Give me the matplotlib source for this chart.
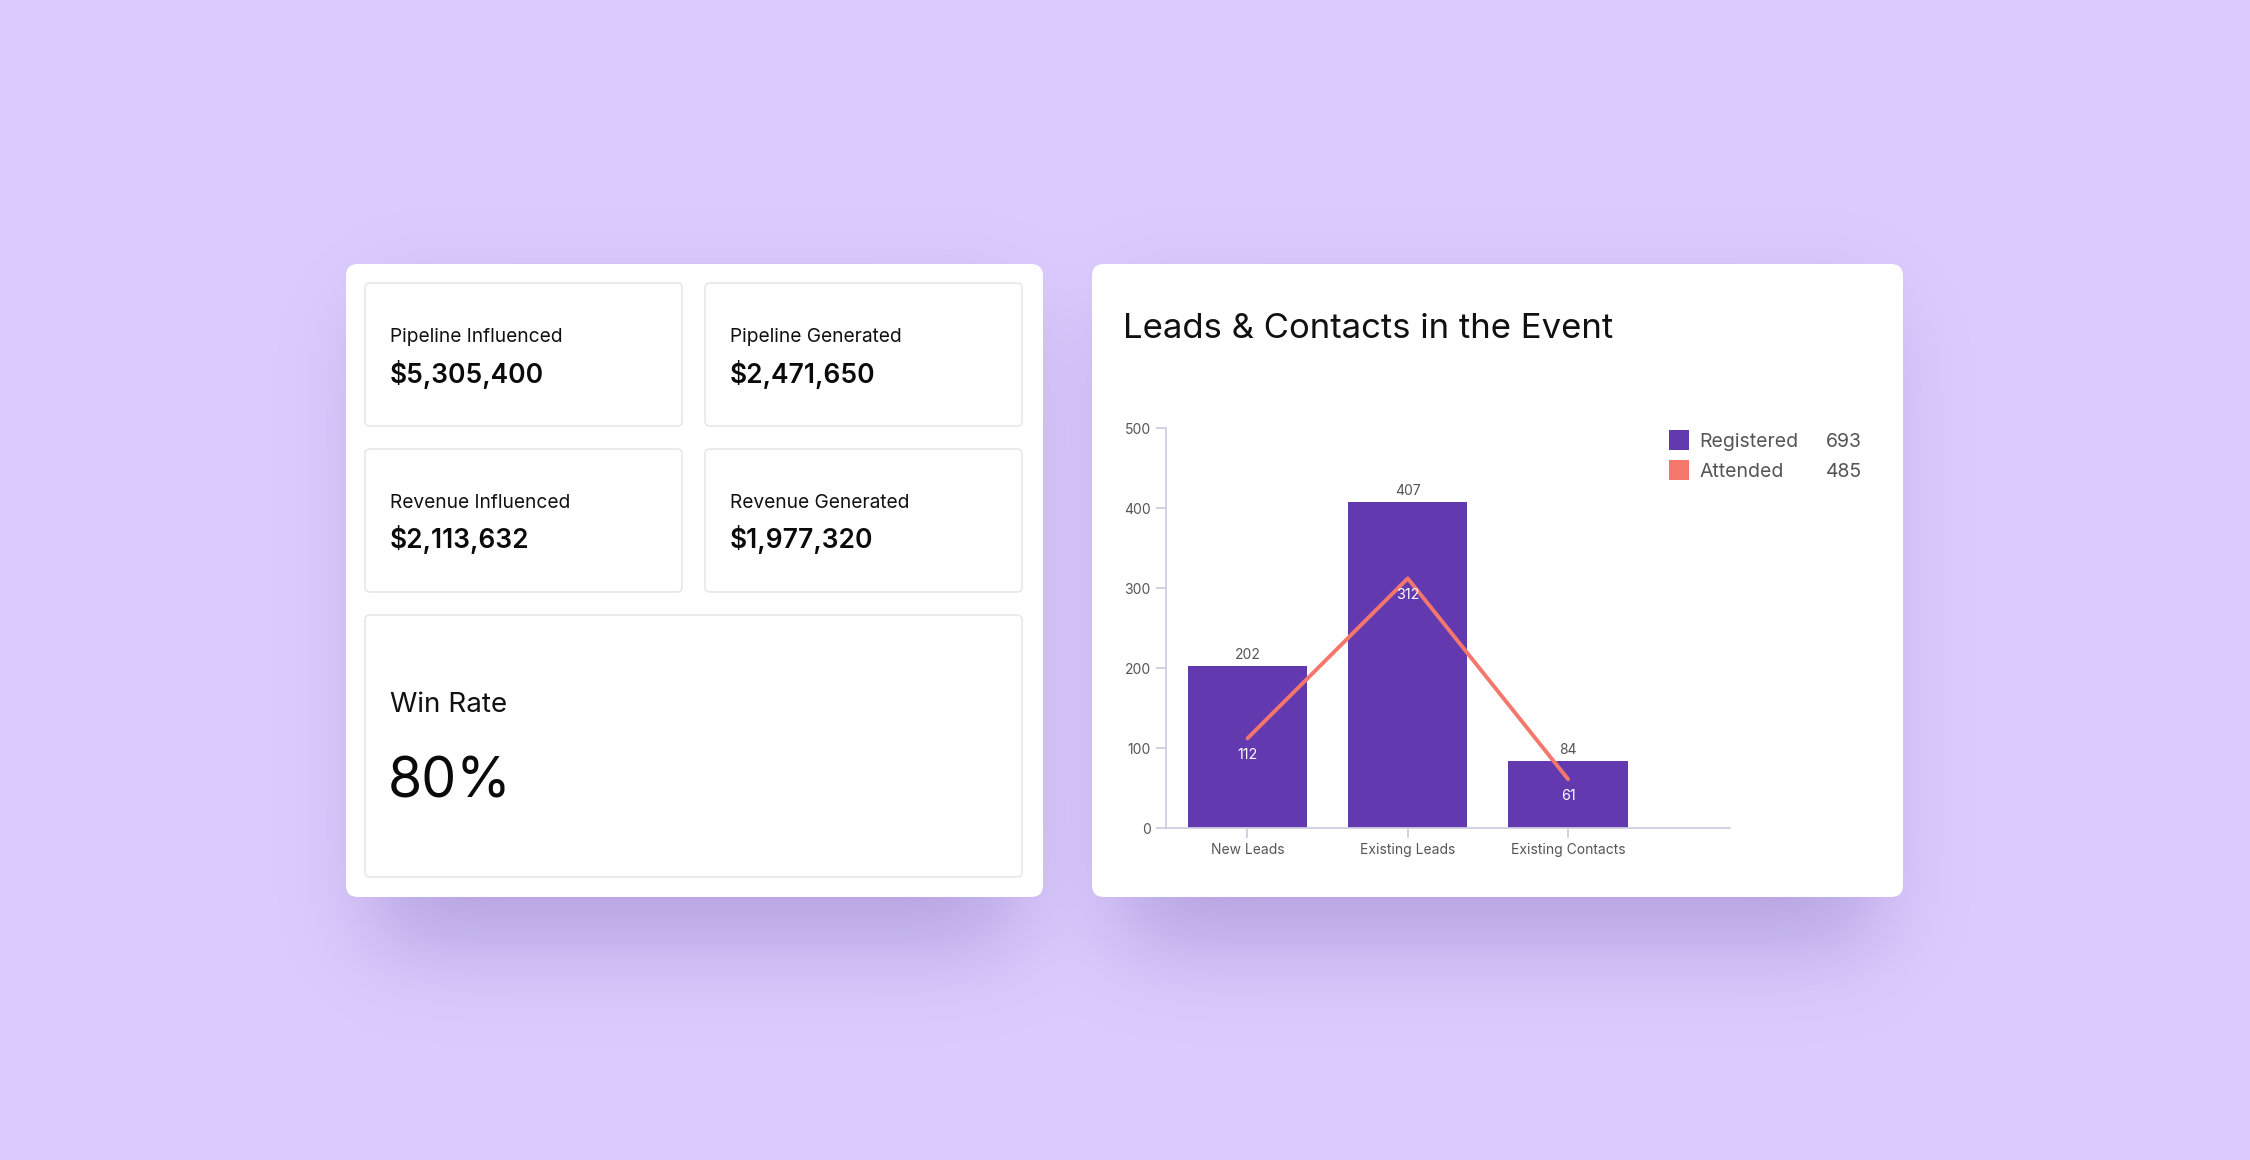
import numpy as np
import matplotlib
matplotlib.use("Agg")
import matplotlib.pyplot as plt
from matplotlib.patches import FancyBboxPatch, Rectangle

plt.rcParams['font.family'] = ['Inter', 'DejaVu Sans']

# data
categories = ['New Leads', 'Existing Leads', 'Existing Contacts']
registered = [202, 407, 84]
attended = [112, 312, 61]

kpi_labels = ['Pipeline Influenced', 'Pipeline Generated', 'Revenue Influenced', 'Revenue Generated']
kpi_values = ['$5,305,400', '$2,471,650', '$2,113,632', '$1,977,320']
win_rate = '80%'

title = 'Leads & Contacts in the Event'

BG = '#DACAFD'
PURPLE = '#6339B0'
CORAL = '#F4776B'
AXIS = '#CFCDE0'
GREY_TXT = '#555555'

W, H = 2250, 1160
fig = plt.figure(figsize=(22.5, 11.6), dpi=100)
fig.patch.set_facecolor(BG)

# background axes in pixel coordinates (y down)
bg = fig.add_axes([0, 0, 1, 1], zorder=0)
bg.set_xlim(0, W)
bg.set_ylim(H, 0)
bg.axis('off')

cards = [(346, 264, 1043, 897), (1092, 264, 1903, 897)]

# soft shadow under the cards
mask = np.zeros((H, W))
for x0, y0, x1, y1 in cards:
    mask[y0 + 45:y1 + 45, x0 + 30:x1 - 30] = 1.0
fy = np.fft.fftfreq(H)[:, None]
fx = np.fft.fftfreq(W)[None, :]
sigma = 45
kern = np.exp(-2 * np.pi ** 2 * sigma ** 2 * (fx ** 2 + fy ** 2))
blur = np.real(np.fft.ifft2(np.fft.fft2(mask) * kern))
blur = np.clip(blur, 0, 1)
shadow = np.zeros((H, W, 4))
shadow[..., 0] = 100 / 255
shadow[..., 1] = 80 / 255
shadow[..., 2] = 160 / 255
shadow[..., 3] = blur * 0.33
bg.imshow(shadow, extent=(0, W, H, 0), zorder=1, interpolation='bilinear')
bg.set_xlim(0, W)
bg.set_ylim(H, 0)

for x0, y0, x1, y1 in cards:
    bg.add_patch(FancyBboxPatch((x0, y0), x1 - x0, y1 - y0,
                                boxstyle='round,pad=0,rounding_size=12',
                                facecolor='white', edgecolor='none', zorder=2))

# KPI boxes
boxes = [(365, 283, 682, 426), (705, 283, 1022, 426),
         (365, 449, 682, 592), (705, 449, 1022, 592)]
label_base = [342, 342, 508, 508]
value_base = [383, 383, 548, 548]
for i, (x0, y0, x1, y1) in enumerate(boxes):
    bg.add_patch(FancyBboxPatch((x0, y0), x1 - x0, y1 - y0,
                                boxstyle='round,pad=0,rounding_size=5',
                                facecolor='white', edgecolor='#E3E3E8', lw=1.0, zorder=3))
    bg.text(x0 + 25, label_base[i], kpi_labels[i], fontsize=13.8, color='#111111',
            va='baseline', ha='left', zorder=4)
    bg.text(x0 + 25, value_base[i], kpi_values[i], fontsize=19, fontweight='semibold',
            color='#0A0A0A', va='baseline', ha='left', zorder=4)

bg.add_patch(FancyBboxPatch((365, 615), 1022 - 365, 877 - 615,
                            boxstyle='round,pad=0,rounding_size=5',
                            facecolor='white', edgecolor='#E3E3E8', lw=1.0, zorder=3))
bg.text(390, 712, 'Win Rate', fontsize=20, color='#111111', va='baseline', zorder=4)
bg.text(388, 797, win_rate, fontsize=40, color='#0A0A0A', va='baseline', zorder=4)

# chart card title
bg.text(1123, 338, title, fontsize=25, color='#111111', va='baseline', zorder=4)

# legend
legend_items = [('Registered', PURPLE, sum(registered), 447),
                ('Attended', CORAL, sum(attended), 477)]
for name, col, total, base in legend_items:
    bg.add_patch(Rectangle((1669, base - 17), 20, 20, facecolor=col, edgecolor='none', zorder=4))
    bg.text(1699, base, name, fontsize=14, color=GREY_TXT, va='baseline', zorder=4)
    bg.text(1862, base, str(total), fontsize=14, color=GREY_TXT, va='baseline',
            ha='right', zorder=4)

# chart axes
ax = fig.add_axes([1166 / W, 1 - 828 / H, (1730 - 1166) / W, 400 / H], zorder=5)
ax.patch.set_alpha(0)
x = np.arange(len(categories))
bars = ax.bar(x, registered, width=0.745, color=PURPLE, zorder=2)
ax.bar_label(bars, padding=3, fontsize=10, color=GREY_TXT)
ax.plot(x, attended, color=CORAL, lw=2.8, zorder=3, solid_capstyle='round')
for xi, v in zip(x, attended):
    ax.annotate(str(v), (xi, v), xytext=(0, -12), textcoords='offset points',
                ha='center', va='center', fontsize=10.3, color='white', zorder=4)

ax.set_xlim(-0.508, 3.01)
ax.set_ylim(0, 500)
ax.set_yticks(range(0, 501, 100))
ax.set_xticks(x)
ax.set_xticklabels(categories)
for side in ['top', 'right']:
    ax.spines[side].set_visible(False)
for side in ['left', 'bottom']:
    ax.spines[side].set_color(AXIS)
    ax.spines[side].set_linewidth(1.3)
ax.tick_params(axis='both', colors=AXIS, labelcolor=GREY_TXT, labelsize=10,
               length=7, width=1.3, pad=4)

fig.savefig('out.png', dpi=100, facecolor=BG)
